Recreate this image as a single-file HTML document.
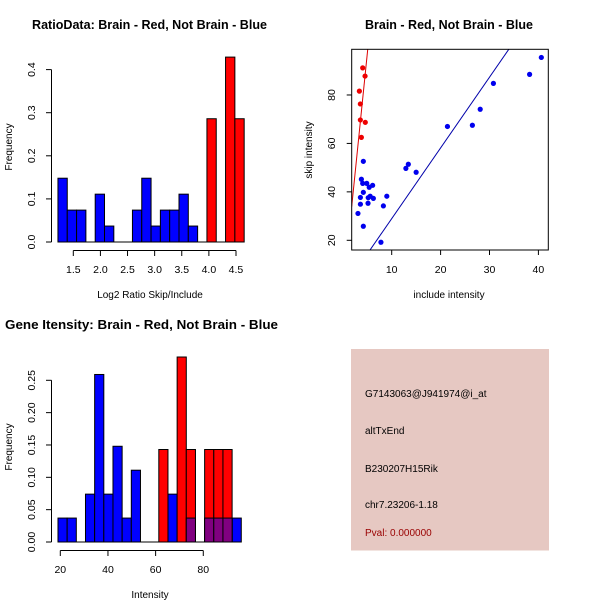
<!DOCTYPE html>
<html><head><meta charset="utf-8"><style>
body{margin:0;background:#fff}
svg{display:block;font-family:"Liberation Sans",sans-serif}
</style></head><body>
<svg id="c" width="600" height="600" xmlns="http://www.w3.org/2000/svg"></svg>
<script>
// Panel 1 data: ratio histogram
const ratioBinStart = 1.217, ratioBinWidth = 0.1717;
const ratioBlue = [0.148,0.074,0.074,0,0.111,0.037,0,0,0.074,0.148,0.037,0.074,0.074,0.111,0.037,0,0,0,0,0];
const ratioRed  = [0,0,0,0,0,0,0,0,0,0,0,0,0,0,0,0,0.286,0,0.429,0.286];
const ratioXTicks = [1.5,2.0,2.5,3.0,3.5,4.0,4.5];
const ratioYTicks = [0,0.1,0.2,0.3,0.4];
// Panel 2 data: scatter
const redX = [4.07,4.55,3.39,3.59,3.59,4.6,3.8];
const redY = [91.2,87.8,81.6,76.3,69.7,68.7,62.5];
const blueX = [40.6,38.2,30.8,28.1,26.5,21.4,13.4,12.9,15.0,4.2,3.8,4.07,4.9,6.1,5.4,4.2,3.6,9.0,5.2,5.6,6.25,5.16,3.6,8.3,3.1,4.2,7.8];
const blueY = [95.5,88.5,84.8,74.1,67.5,67.0,51.4,49.7,48.1,52.6,45.2,43.5,43.5,42.7,41.9,39.8,37.7,38.2,37.6,38.2,37.3,35.3,34.9,34.2,31.1,25.8,19.2];
const redFit = [-2.1, 19.8];   // intercept, slope
const blueFit = [-0.26, 2.92];
const scatXTicks = [10,20,30,40];
const scatYTicks = [20,40,60,80];
// Panel 3 data: intensity histogram
const intBinStart = 19.03, intBinWidth = 3.846;
const intBlue = [0.037,0.037,0,0.074,0.259,0.074,0.148,0.037,0.111,0,0,0,0.074,0,0.037,0,0.037,0.037,0.037,0.037];
const intRed  = [0,0,0,0,0,0,0,0,0,0,0,0.143,0,0.286,0.143,0,0.143,0.143,0.143,0];
const intXTicks = [20,40,60,80];
const intYTicks = [0,0.05,0.10,0.15,0.20,0.25];
const infoLines = ["G7143063@J941974@i_at","altTxEnd","B230207H15Rik","chr7.23206-1.18"];
const pvalText = "Pval: 0.000000";

const svg = document.getElementById('c');
const NS = "http://www.w3.org/2000/svg";
function mk(tag, attrs, text){
  const e = document.createElementNS(NS, tag);
  for (const k in attrs) e.setAttribute(k, attrs[k]);
  if (text !== undefined) e.textContent = text;
  svg.appendChild(e); return e;
}
const TF = 10.5;

// ---- Panel 1 ----
const p1x = v => 73.3 + (v - 1.5) * 54.23;
const p1y = v => 242 - v * 431;
let t = mk('text',{x:32,y:29,'font-size':12.5,'font-weight':'bold',textLength:235,lengthAdjust:'spacingAndGlyphs'},'RatioData: Brain - Red, Not Brain - Blue');
 
ratioBlue.forEach((v,i)=>{ if(!v) return;
  const x0=p1x(ratioBinStart+i*ratioBinWidth), x1=p1x(ratioBinStart+(i+1)*ratioBinWidth);
  const r=mk('rect',{x:x0,y:p1y(v),width:x1-x0,height:p1y(0)-p1y(v),fill:'#0000ff',stroke:'#000'});
   
});
ratioRed.forEach((v,i)=>{ if(!v) return;
  const x0=p1x(ratioBinStart+i*ratioBinWidth), x1=p1x(ratioBinStart+(i+1)*ratioBinWidth);
  const r=mk('rect',{x:x0,y:p1y(v),width:x1-x0,height:p1y(0)-p1y(v),fill:'#ff0000',stroke:'#000'});
   
});
mk('line',{x1:p1x(ratioBinStart),x2:p1x(ratioBinStart+20*ratioBinWidth),y1:242,y2:242,stroke:'#000'});
mk('line',{x1:p1x(1.5),x2:p1x(4.5),y1:250.5,y2:250.5,stroke:'#000'});
ratioXTicks.forEach(v=>{
  mk('line',{x1:p1x(v),x2:p1x(v),y1:250.5,y2:256,stroke:'#000'});
  const l=mk('text',{x:p1x(v),y:273,'font-size':TF,'text-anchor':'middle'},v.toFixed(1));
   
});
mk('line',{x1:51.5,x2:51.5,y1:p1y(0),y2:p1y(0.4),stroke:'#000'});
ratioYTicks.forEach(v=>{
  mk('line',{x1:46,x2:51.5,y1:p1y(v),y2:p1y(v),stroke:'#000'});
  const l=mk('text',{x:35,y:p1y(v),'font-size':TF,'text-anchor':'middle',transform:`rotate(-90 35 ${p1y(v)})`},v.toFixed(1));
   
});
t=mk('text',{x:150,y:298,'font-size':10,'text-anchor':'middle'},'Log2 Ratio Skip/Include');
 
t=mk('text',{x:12,y:147,'font-size':10,'text-anchor':'middle',transform:'rotate(-90 12 147)'},'Frequency');
 

// ---- Panel 2 ----
const p2x = v => 391.7 + (v - 10) * 4.89;
const p2y = v => 240.3 - (v - 20) * 2.422;
const bx0=351.7, bx1=548.3, by0=49.3, by1=250;
t=mk('text',{x:365,y:29,'font-size':12.5,'font-weight':'bold',textLength:168,lengthAdjust:'spacingAndGlyphs'},'Brain - Red, Not Brain - Blue');
 
mk('defs',{}).innerHTML='<clipPath id="cp"><rect x="351.7" y="49.3" width="196.6" height="200.7"/></clipPath>';
function fitLine(f,col,name){
  const xa=1.82, xb=42;
  const l=mk('line',{x1:p2x(xa),y1:p2y(f[0]+f[1]*xa),x2:p2x(xb),y2:p2y(f[0]+f[1]*xb),stroke:col,'stroke-width':1,'clip-path':'url(#cp)'});
   
}
fitLine(redFit,'#dd0000','red-fit-line');
fitLine(blueFit,'#0000aa','blue-fit-line');
blueX.forEach((x,i)=>{
  const c=mk('circle',{cx:p2x(x),cy:p2y(blueY[i]),r:2.6,fill:'#0000ee'});
   
});
redX.forEach((x,i)=>{
  const c=mk('circle',{cx:p2x(x),cy:p2y(redY[i]),r:2.6,fill:'#ee0000'});
   
});
mk('rect',{x:bx0,y:by0,width:bx1-bx0,height:by1-by0,fill:'none',stroke:'#000'});
scatXTicks.forEach(v=>{
  mk('line',{x1:p2x(v),x2:p2x(v),y1:by1,y2:by1+5,stroke:'#000'});
  const l=mk('text',{x:p2x(v),y:273,'font-size':TF,'text-anchor':'middle'},v);
   
});
scatYTicks.forEach(v=>{
  mk('line',{x1:bx0-5,x2:bx0,y1:p2y(v),y2:p2y(v),stroke:'#000'});
  const l=mk('text',{x:335,y:p2y(v),'font-size':TF,'text-anchor':'middle',transform:`rotate(-90 335 ${p2y(v)})`},v);
   
});
t=mk('text',{x:449,y:298,'font-size':10,'text-anchor':'middle'},'include intensity');
 
t=mk('text',{x:312,y:150,'font-size':10,'text-anchor':'middle',transform:'rotate(-90 312 150)'},'skip intensity');
 

// ---- Panel 3 ----
const p3x = v => 60.3 + (v - 20) * 2.383;
const p3y = v => 542 - v * 646.8;
t=mk('text',{x:5,y:329,'font-size':12.5,'font-weight':'bold',textLength:273,lengthAdjust:'spacingAndGlyphs'},'Gene Itensity: Brain - Red, Not Brain - Blue');
 
function binRect(i,v,fill,name){
  const x0=p3x(intBinStart+i*intBinWidth), x1=p3x(intBinStart+(i+1)*intBinWidth);
  const r=mk('rect',{x:x0,y:p3y(v),width:x1-x0,height:p3y(0)-p3y(v),fill:fill,stroke:'#000'});
   
}
intBlue.forEach((v,i)=>{ if(v) binRect(i,v,'#0000ff','intensity-blue-bar'); });
intRed.forEach((v,i)=>{ if(v) binRect(i,v,'#ff0000','intensity-red-bar'); });
intBlue.forEach((v,i)=>{ if(v && intRed[i]) binRect(i,Math.min(v,intRed[i]),'#800080','intensity-overlap-bar'); });
mk('line',{x1:p3x(intBinStart),x2:p3x(intBinStart+20*intBinWidth),y1:542,y2:542,stroke:'#000'});
mk('line',{x1:p3x(20),x2:p3x(80),y1:550.5,y2:550.5,stroke:'#000'});
intXTicks.forEach(v=>{
  mk('line',{x1:p3x(v),x2:p3x(v),y1:550.5,y2:556,stroke:'#000'});
  const l=mk('text',{x:p3x(v),y:573,'font-size':TF,'text-anchor':'middle'},v);
   
});
mk('line',{x1:51.5,x2:51.5,y1:p3y(0),y2:p3y(0.25),stroke:'#000'});
intYTicks.forEach(v=>{
  mk('line',{x1:46,x2:51.5,y1:p3y(v),y2:p3y(v),stroke:'#000'});
  const l=mk('text',{x:35,y:p3y(v),'font-size':TF,'text-anchor':'middle',transform:`rotate(-90 35 ${p3y(v)})`},v.toFixed(2));
   
});
t=mk('text',{x:150,y:598,'font-size':10,'text-anchor':'middle'},'Intensity');
 
t=mk('text',{x:12,y:447,'font-size':10,'text-anchor':'middle',transform:'rotate(-90 12 447)'},'Frequency');
 

// ---- Panel 4 ----
const box=mk('rect',{x:351,y:349,width:198,height:201.5,fill:'#e6c8c2'});
 
const lineYs=[397,434,472,508];
infoLines.forEach((s,i)=>{
  const l=mk('text',{x:365,y:lineYs[i],'font-size':10,fill:'#000'},s);
   
});
t=mk('text',{x:365,y:536,'font-size':10,fill:'#990000'},pvalText);
 
</script>
</body></html>
